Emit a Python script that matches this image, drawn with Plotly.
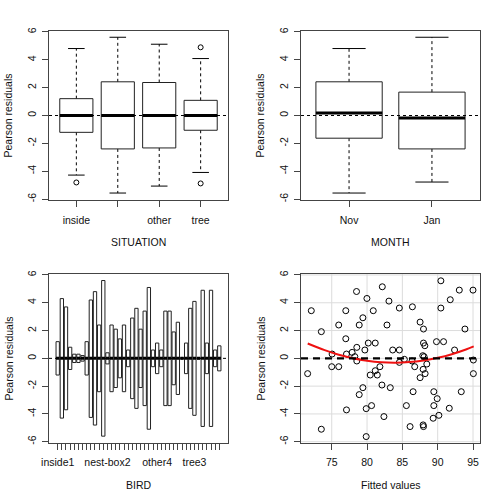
import plotly.graph_objects as go

# ---------------- data ----------------
situation_labels = ["inside", "nest-box", "other", "tree"]
situation_tick_text = ["inside", "", "other", "tree"]
sit_upper = [4.81, 5.62, 5.12, 4.09]
sit_q3 = [1.21, 2.42, 2.37, 1.09]
sit_median = [0.0, 0.0, 0.0, 0.0]
sit_q1 = [-1.21, -2.40, -2.33, -1.06]
sit_lower = [-4.28, -5.57, -5.07, -4.09]
sit_outlier_group = ["inside", "tree", "tree"]
sit_outlier_value = [-4.81, 4.90, -4.88]

month_labels = ["Nov", "Jan"]
mon_upper = [4.81, 5.62]
mon_q3 = [2.42, 1.68]
mon_median = [0.18, -0.18]
mon_q1 = [-1.63, -2.40]
mon_lower = [-5.57, -4.78]

bird_names = (
    ["inside1", "inside2", "inside3", "inside4", "inside5", "inside6",
     "inside7", "inside8", "inside9", "inside10", "inside11"]
    + ["nest-box1", "nest-box2", "nest-box3", "nest-box4", "nest-box5",
       "nest-box6", "nest-box7", "nest-box8", "nest-box9", "nest-box10"]
    + ["other1", "other2", "other3", "other4", "other5", "other6",
       "other7", "other8", "other9", "other10"]
    + ["tree1", "tree2", "tree3", "tree4", "tree5", "tree6", "tree7",
       "tree8", "tree9"]
)
bird_shown_labels = ["inside1", "nest-box2", "other4", "tree3"]
bird_upper = [1.2, 4.3, 3.7, 0.8, 0.3, 0.3, 0.2, 1.2, 4.2, 4.8,
              2.4, 5.6, 0.4, 2.4, 2.1, 1.4, 2.4, 0.6, 2.9, 3.6,
              2.1, 3.4, 5.1, 0.6, 1.1, 0.6, 3.4, 3.4, 1.9, 2.6,
              0.05, 1.1, 3.6, 4.1, 0.05, 4.9, 1.1, 4.9, 0.6, 0.9]
bird_lower = [-1.2, -4.3, -3.7, -0.8, -0.3, -0.3, -0.2, -1.2, -4.25, -4.8,
              -2.4, -5.6, -0.4, -2.4, -2.1, -1.4, -2.4, -0.6, -2.9, -3.6,
              -2.1, -3.4, -5.1, -0.6, -1.1, -0.6, -3.4, -3.4, -1.9, -2.6,
              -0.05, -1.1, -3.6, -4.1, -0.05, -4.9, -1.1, -4.9, -0.6, -0.9]
bird_median = [0.0] * 40

fitted = [71.59, 72.11, 73.53, 73.53, 75.05, 75.00, 75.99, 75.99, 76.99, 76.99,
          77.09, 77.09, 77.89, 78.27, 78.51, 78.55, 78.55, 78.89, 78.89, 79.41,
          79.41, 79.69, 79.88, 79.88, 79.98, 80.17, 80.45, 80.64, 80.88, 81.16,
          81.16, 81.45, 81.82, 82.16, 82.11, 82.39, 82.82, 83.10, 83.29, 83.63,
          84.57, 84.57, 84.57, 85.28, 85.57, 86.09, 86.42, 86.37, 86.52, 86.75,
          87.51, 87.51, 87.89, 87.94, 87.99, 87.99, 87.94, 87.99, 88.08, 88.18,
          88.22, 88.46, 89.45, 89.45, 89.36, 89.83, 89.93, 90.17, 90.45, 90.45,
          90.83, 91.64, 91.78, 92.39, 93.06, 93.34, 93.86, 95.00, 95.05, 95.05]
residuals = [-1.10, 3.43, 1.92, -5.10, 0.31, -0.60, 2.40, -0.60, 3.43, 1.41,
             0.31, -3.71, 0.43, 0.12, 4.81, 0.79, -0.19, 2.40, -2.61, 2.92,
             -2.11, 0.60, -5.63, -3.62, 4.31, 1.10, -1.20, -3.40, 3.43, 1.10,
             -0.89, -1.20, -0.60, 5.15, -1.92, -4.19, 2.40, 4.12, -2.11, 0.60,
             3.62, 0.60, -0.29, -0.07, -3.40, -4.91, 3.71, -0.19, -2.40, -0.60,
             2.61, -1.39, 0.19, -0.79, 2.11, 1.10, -4.79, -4.91, 0.12, 0.91,
             -1.10, -0.41, -2.40, -3.40, -4.31, 1.20, -2.90, -4.10, 5.58, 3.62,
             1.20, -3.59, 4.22, 0.60, 4.91, -2.40, 2.11, 4.91, -0.12, -1.10]
smooth_x = [71.6, 74, 76, 78, 80, 82, 84, 86, 88, 90, 92, 94, 95.1]
smooth_y = [1.07, 0.59, 0.26, 0.01, -0.17, -0.28, -0.31, -0.27, -0.15, 0.04, 0.30, 0.64, 0.86]

y_ticks = [-6, -4, -2, 0, 2, 4, 6]
y_tick_text = ["-6", "-4", "-2", "0", "2", "4", "6"]
fitted_ticks = [75, 80, 85, 90, 95]

# ---------------- figure ----------------
FONT = "Liberation Sans, Arial, sans-serif"
TXT = "#111111"
fig = go.Figure()


def add_boxes(xa, ya, upper, q3, med, q1, lower, half=0.4, staple=0.2, whiskers=True):
    rx, ry, mx, my, wx, wy, sx, sy = [], [], [], [], [], [], [], []
    for i in range(len(q3)):
        p = i + 1
        rx += [p - half, p + half, p + half, p - half, p - half, None]
        ry += [q1[i], q1[i], q3[i], q3[i], q1[i], None]
        mx += [p - half, p + half, None]
        my += [med[i], med[i], None]
        if whiskers:
            wx += [p, p, None, p, p, None]
            wy += [q3[i], upper[i], None, q1[i], lower[i], None]
            sx += [p - staple, p + staple, None, p - staple, p + staple, None]
            sy += [upper[i], upper[i], None, lower[i], lower[i], None]
    if whiskers:
        fig.add_trace(go.Scatter(x=wx, y=wy, mode="lines", xaxis=xa, yaxis=ya,
                                 line=dict(color="black", width=1, dash="3px,3px"),
                                 showlegend=False, hoverinfo="skip"))
        fig.add_trace(go.Scatter(x=sx, y=sy, mode="lines", xaxis=xa, yaxis=ya,
                                 line=dict(color="black", width=1),
                                 showlegend=False, hoverinfo="skip"))
    fig.add_trace(go.Scatter(x=rx, y=ry, mode="lines", xaxis=xa, yaxis=ya,
                             line=dict(color="#222", width=1),
                             showlegend=False, hoverinfo="skip"))
    fig.add_trace(go.Scatter(x=mx, y=my, mode="lines", xaxis=xa, yaxis=ya,
                             line=dict(color="black", width=3),
                             showlegend=False, hoverinfo="skip"))


# panel 1: SITUATION
add_boxes("x", "y", sit_upper, sit_q3, sit_median, sit_q1, sit_lower)
fig.add_trace(go.Scatter(
    x=[situation_labels.index(g) + 1 for g in sit_outlier_group], y=sit_outlier_value,
    mode="markers", xaxis="x", yaxis="y",
    marker=dict(symbol="circle-open", size=5, color="black", line=dict(width=1)),
    showlegend=False, hoverinfo="skip"))

# panel 2: MONTH
add_boxes("x2", "y2", mon_upper, mon_q3, mon_median, mon_q1, mon_lower)

# panel 3: BIRD
add_boxes("x3", "y3", bird_upper, bird_upper, bird_median, bird_lower, bird_lower,
          whiskers=False)

# panel 4: scatter
for v in fitted_ticks:
    fig.add_shape(type="line", xref="x4", yref="y4 domain", x0=v, x1=v, y0=0, y1=1,
                  line=dict(color="#dcdcdc", width=1), layer="below")
for v in y_ticks:
    fig.add_shape(type="line", xref="x4 domain", yref="y4", x0=0, x1=1, y0=v, y1=v,
                  line=dict(color="#dcdcdc", width=1), layer="below")
fig.add_trace(go.Scatter(x=fitted, y=residuals, mode="markers", xaxis="x4", yaxis="y4",
                         marker=dict(symbol="circle-open", size=6, color="black",
                                     line=dict(width=1)),
                         showlegend=False, hoverinfo="skip"))
fig.add_shape(type="line", xref="x4 domain", yref="y4", x0=0, x1=1, y0=0, y1=0,
              line=dict(color="black", width=2.2, dash="7px,5px"))
fig.add_trace(go.Scatter(x=smooth_x, y=smooth_y, mode="lines", xaxis="x4", yaxis="y4",
                         line=dict(color="#ee1111", width=2, shape="spline"),
                         showlegend=False, hoverinfo="skip"))

# zero reference lines for boxplot panels
for xa, ya in [("x", "y"), ("x2", "y2"), ("x3", "y3")]:
    fig.add_shape(type="line", xref=xa + " domain", yref=ya, x0=0, x1=1, y0=0, y1=0,
                  line=dict(color="black", width=1, dash="3px,3px"))

W = 504.0
xl = [49 / W, 228 / W]
xr = [301 / W, 480 / W]
yt = [1 - 200 / W, 1 - 31 / W]
yb = [1 - 442.7 / W, 1 - 274 / W]
YR = [-6.07, 6.07]

axis_common = dict(showgrid=False, zeroline=False, showline=True, mirror=True,
                   linecolor="#444", linewidth=1, ticks="outside", ticklen=6,
                   tickcolor="#444", tickwidth=1, automargin=False,
                   tickfont=dict(family=FONT, size=10.5, color=TXT))
yaxis_common = dict(axis_common, range=YR, tickmode="array", tickvals=y_ticks,
                    ticktext=y_tick_text, tickangle=-90, ticklabelstandoff=2)

bird_tick_text = [n if n in bird_shown_labels else "" for n in bird_names]

fig.update_layout(
    width=504, height=504, margin=dict(l=0, r=0, t=0, b=0, autoexpand=False),
    paper_bgcolor="white", plot_bgcolor="white", showlegend=False,
    xaxis=dict(axis_common, domain=xl, anchor="y", range=[0.34, 4.66], tickmode="array",
               tickvals=[1, 2, 3, 4], ticktext=situation_tick_text, ticklabelstandoff=4),
    yaxis=dict(yaxis_common, domain=yt, anchor="x"),
    xaxis2=dict(axis_common, domain=xr, anchor="y2", range=[0.42, 2.58], tickmode="array",
                tickvals=[1, 2], ticktext=month_labels, ticklabelstandoff=4),
    yaxis2=dict(yaxis_common, domain=yt, anchor="x2"),
    xaxis3=dict(axis_common, domain=xl, anchor="y3", range=[-1.1, 42.1], tickmode="array",
                tickvals=list(range(1, 41)), ticktext=bird_tick_text, ticklabelstandoff=4,
                tickangle=0),
    yaxis3=dict(yaxis_common, domain=yb, anchor="x3"),
    xaxis4=dict(axis_common, domain=xr, anchor="y4", range=[70.65, 95.99], tickmode="array",
                tickvals=fitted_ticks, ticktext=[str(v) for v in fitted_ticks],
                ticklabelstandoff=4),
    yaxis4=dict(yaxis_common, domain=yb, anchor="x4"),
)

ann_font = dict(family=FONT, size=10.5, color=TXT)
titles = [
    ("Pearson residuals", 8 / W, 1 - 115.5 / W, -90),
    ("Pearson residuals", 260 / W, 1 - 115.5 / W, -90),
    ("Pearson residuals", 8 / W, 1 - 358.5 / W, -90),
    ("Pearson residuals", 260 / W, 1 - 358.5 / W, -90),
    ("SITUATION", 138.5 / W, 1 - 241.7 / W, 0),
    ("MONTH", 390.5 / W, 1 - 241.7 / W, 0),
    ("BIRD", 138.5 / W, 1 - 485 / W, 0),
    ("Fitted values", 390.5 / W, 1 - 485 / W, 0),
]
for text, x, y, ang in titles:
    fig.add_annotation(text=text, x=x, y=y, xref="paper", yref="paper", showarrow=False,
                       textangle=ang, xanchor="center", yanchor="middle", font=ann_font)

fig.write_html("out.html", config={"displayModeBar": False},
               post_script="document.body.style.margin='0';document.body.style.padding='0';")
